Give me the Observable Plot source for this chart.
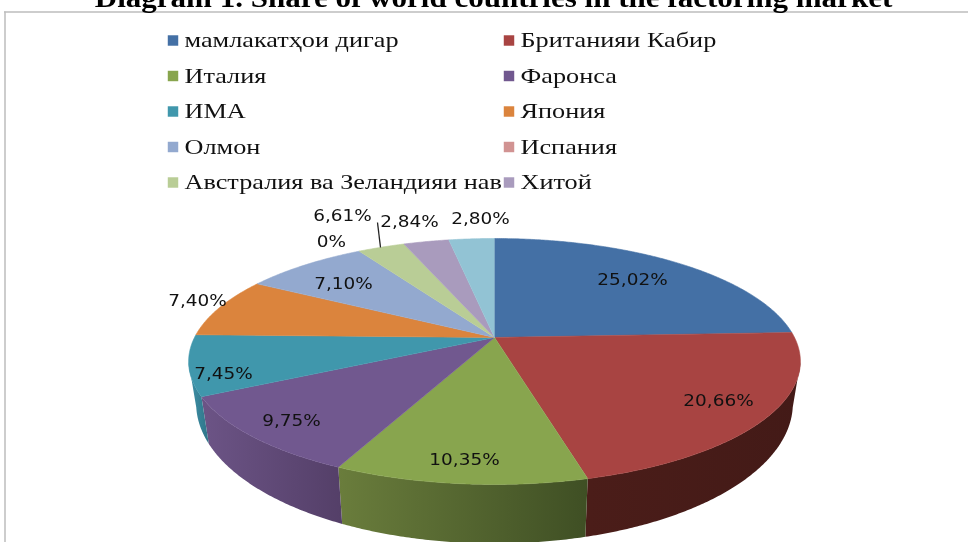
<!DOCTYPE html>
<html><head><meta charset="utf-8">
<style>html,body{margin:0;padding:0;background:#fff;overflow:hidden}svg{display:block;filter:blur(.45px)}</style>
<script src="https://cdn.jsdelivr.net/npm/d3@7"></script>
<script src="https://cdn.jsdelivr.net/npm/@observablehq/plot@0.6"></script>
</head><body><script>
const title = "Diagram 1. Share of world countries in the factoring market";
const categories = ["мамлакатҳои дигар","Британияи Кабир","Италия","Фаронса","ИМА","Япония","Олмон","Испания","Австралия ва Зеландияи нав","Хитой",""];
const shares = [24.3,21.6,11.1,10.4,7.9,7.9,7.9,0,3.0,2.9,2.9];
// the data labels as printed on the chart
const labels = ["25,02%","20,66%","10,35%","9,75%","7,45%","7,40%","7,10%","0%","6,61%","2,84%","2,80%"];
const colors = ["#4470a5","#a84442","#88a54e","#71588f","#4097ac","#db843d","#93a9cf","#d19392","#b9cd96","#a99bbd","#92c3d4"];
const wallFrom = ["#2f4e73","#4b1d19","#6a7d3c","#6c5486","#3f92a8","#a5632e","#6e7f9c","#9d6f6e","#8b9a71","#7f748e","#6e929f"];
const wallTo = ["#2f4e73","#431a17","#3f4f24","#543f68","#2f7488","#a5632e","#6e7f9c","#9d6f6e","#8b9a71","#7f748e","#6e929f"];

// layout (pixels)
const labelX = [632,718,464,291,223,197,343,331,342,409,480];
const labelY = [279,400,459,420,373,300,283,241,215,221,218];
const cx = 494, apexY = 337, R = 300, A = 118.3, C = -0.195, midY = 361;
const lowX = 0.975, lowCy = 403, lowRy = 140, rimRx = 306;

const tau = Math.PI * 2;
const rim = (f) => {
  const t = f * tau, v = -Math.cos(t), s = Math.sin(t), d = 1 + C * v;
  return [cx + R * s / d, apexY + A * v / d];
};
const low = ([x, y]) => {
  const u = Math.min(1, Math.abs(x - cx) / rimRx);
  return [cx + lowX * (x - cx), lowCy + lowRy * Math.sqrt(1 - u * u)];
};
const total = d3.sum(shares);
let acc = 0;
const slices = shares.map((v, i) => {
  const a = acc / total; acc += v; const b = acc / total;
  return {i, a, b, v};
});
const sample = (a, b) => {
  const n = Math.max(2, Math.ceil((b - a) * 800));
  return d3.range(n + 1).map((k) => rim(a + (b - a) * k / n));
};
const topFace = (s) => [[cx, apexY], ...sample(s.a, s.b)];
const wallFace = (s) => {
  const p = sample(s.a, s.b).filter((q) => q[1] >= midY);
  return p.length < 2 ? [] : [...p, ...p.slice().reverse().map(low)];
};
const polyMark = (pts, fill, stroke) => Plot.line(pts, {x: (d) => d[0], y: (d) => d[1], fill, stroke, strokeWidth: 0.6, curve: "linear"});

const defs = () => {
  const d = d3.create("svg:defs");
  slices.forEach((s) => {
    const g = d.append("linearGradient").attr("id", `wall${s.i}`);
    g.append("stop").attr("offset", "0%").attr("stop-color", wallFrom[s.i]);
    g.append("stop").attr("offset", "100%").attr("stop-color", wallTo[s.i]);
  });
  return d.node();
};

const legend = categories.map((name, i) => ({name, i, col: i % 2, row: Math.floor(i / 2)})).filter((d) => d.name);
const legX = (d) => d.col ? 508.5 : 172.5;
const legY = (d) => 40 + d.row * 35.5;
// the reference's type is stretched sideways
const stretched = (k) => (index, scales, values, dims, ctx, next) => {
  const g = next(index, scales, values, dims, ctx);
  g.querySelectorAll("text").forEach((t) => t.setAttribute("transform", `${t.getAttribute("transform") || ""} scale(${k},1)`));
  return g;
};
const labelRows = labels.map((text, i) => ({text, x: labelX[i], y: labelY[i]}));

const chart = Plot.plot({
  width: 968, height: 542, margin: 0,
  x: {type: "identity", axis: null},
  y: {type: "identity", axis: null},
  style: {background: "#fff"},
  marks: [
    defs,
    Plot.ruleX([4.5], {y1: 11.5, y2: 542, stroke: "#bdbdbd", strokeWidth: 1.5}),
    Plot.ruleY([11.5], {x1: 4, x2: 968, stroke: "#bdbdbd", strokeWidth: 1.5}),
    Plot.text([title], {x: 493, y: -2, text: (d) => d, fontFamily: "Liberation Serif", fontWeight: "bold", fontSize: 27, fill: "#000", render: stretched(1.15)}),
    ...slices.filter((s) => s.v > 0).map((s) => { const w = wallFace(s); return w.length ? polyMark(w, `url(#wall${s.i})`, "none") : null; }).filter(Boolean),
    ...slices.filter((s) => s.v > 0).map((s) => polyMark(topFace(s), colors[s.i], colors[s.i])),
    Plot.dot(legend, {x: legX, y: legY, r: 5.9, symbol: "square", fill: (d) => colors[d.i], stroke: "none"}),
    Plot.text(legend, {x: (d) => d.col ? 520 : 184, y: legY, text: "name", textAnchor: "start", fontFamily: "Liberation Serif", fontSize: 21, fill: "#111", render: stretched(1.25)}),
    Plot.link([0], {x1: () => 380, y1: () => 247, x2: () => 377, y2: () => 222, stroke: "#222", strokeWidth: 1.3}),
    Plot.text(labelRows, {x: "x", y: "y", text: "text", fontFamily: "DejaVu Sans", fontSize: 16.5, fill: "#111", stroke: "none", render: stretched(1.12)})
  ]
});
document.body.append(chart);
</script></body></html>
